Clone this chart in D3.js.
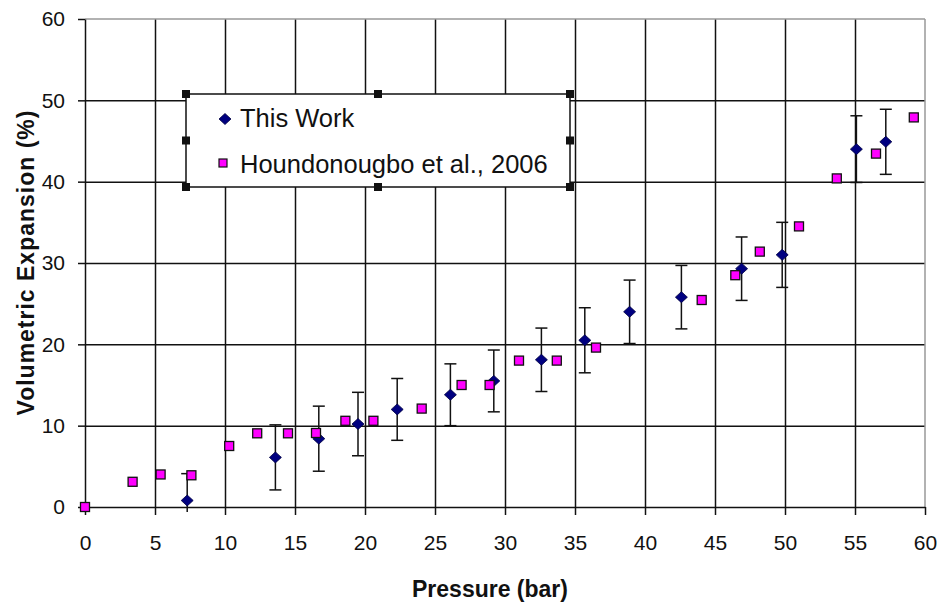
<!DOCTYPE html>
<html>
<head>
<meta charset="utf-8">
<script src="https://cdn.jsdelivr.net/npm/d3@7"></script>
<style>
  html, body { margin: 0; padding: 0; background: #fff; }
  svg { display: block; font-family: Arial, "Liberation Sans", sans-serif; }
</style>
</head>
<body>
<svg id="chart" width="940" height="605"></svg>
<script>
// ---- data ----
const workPressure = [7.3, 13.6, 16.7, 19.5, 22.3, 26.1, 29.2, 32.6, 35.7, 38.9, 42.6, 46.9, 49.8, 55.1, 57.2];
const workExpansion = [0.8, 6.1, 8.4, 10.2, 12.0, 13.8, 15.5, 18.1, 20.5, 24.0, 25.8, 29.3, 31.0, 44.0, 44.9];
const workError = [3.3, 4.0, 4.0, 3.9, 3.8, 3.8, 3.8, 3.9, 4.0, 3.9, 3.9, 3.9, 4.0, 4.1, 4.0];
const houPressure = [0, 3.4, 5.4, 7.6, 10.3, 12.3, 14.5, 16.5, 18.6, 20.6, 24.05, 26.9, 28.9, 31.0, 33.7, 36.5, 44.05, 46.45, 48.2, 51.0, 53.7, 56.5, 59.2];
const houExpansion = [0, 3.1, 4.0, 3.9, 7.5, 9.06, 9.06, 9.1, 10.6, 10.6, 12.1, 15.0, 15.0, 18.0, 18.0, 19.6, 25.45, 28.5, 31.4, 34.5, 40.4, 43.45, 47.9];
const xTicks = [0, 5, 10, 15, 20, 25, 30, 35, 40, 45, 50, 55, 60];
const yTicks = [0, 10, 20, 30, 40, 50, 60];
const seriesNames = ["This Work", "Houndonougbo et al., 2006"];
const xTitle = "Pressure (bar)";
const yTitle = "Volumetric Expansion (%)";

// ---- layout ----
const L = 85, R = 925, T = 19, B = 507;
const svg = d3.select("#chart");
const x = d3.scaleLinear().domain([0, 60]).range([L, R]);
const y = d3.scaleLinear().domain([0, 60]).range([B, T]);

// gridlines
const grid = svg.append("g");
grid.append("g").attr("transform", `translate(${L},0)`)
  .call(d3.axisLeft(y).tickValues(yTicks.filter(v => v > 0 && v < 60)).tickSize(-(R - L)).tickFormat(""))
  .call(g => g.select(".domain").remove())
  .call(g => g.selectAll("line").attr("stroke", "#111").attr("stroke-width", 1.5));
grid.append("g").attr("transform", `translate(0,${B})`)
  .call(d3.axisBottom(x).tickValues(xTicks.filter(v => v > 0 && v < 60)).tickSize(-(B - T)).tickFormat(""))
  .call(g => g.select(".domain").remove())
  .call(g => g.selectAll("line").attr("stroke", "#111").attr("stroke-width", 1.5));

// plot border (top/right gray)
svg.append("line").attr("x1", L).attr("x2", R).attr("y1", T).attr("y2", T).attr("stroke", "#999").attr("stroke-width", 1.5);
svg.append("line").attr("x1", R).attr("x2", R).attr("y1", T).attr("y2", B).attr("stroke", "#999").attr("stroke-width", 1.5);

// axes
const xAxis = svg.append("g").attr("transform", `translate(0,${B})`)
  .call(d3.axisBottom(x).tickValues(xTicks).tickSize(8).tickPadding(20).tickSizeOuter(0));
const yAxis = svg.append("g").attr("transform", `translate(${L},0)`)
  .call(d3.axisLeft(y).tickValues(yTicks).tickSize(7).tickPadding(13).tickSizeOuter(0));
[xAxis, yAxis].forEach(a => {
  a.select(".domain").attr("stroke", "#111").attr("stroke-width", 1.5);
  a.selectAll(".tick line").attr("stroke", "#111").attr("stroke-width", 1.5);
  a.selectAll(".tick text").attr("fill", "#111").style("font-size", "21px").style("font-family", "Arial, 'Liberation Sans', sans-serif");
});

// axis titles
svg.append("text").attr("x", 490).attr("y", 597).attr("text-anchor", "middle")
  .style("font-size", "23px").style("font-weight", "bold").attr("fill", "#111").text(xTitle);
svg.append("text").attr("transform", `translate(34,${(T + B) / 2}) rotate(-90)`).attr("text-anchor", "middle")
  .attr("textLength", 305).attr("lengthAdjust", "spacing")
  .style("font-size", "23px").style("font-weight", "bold").attr("fill", "#111").text(yTitle);

// clip for error bars
svg.append("clipPath").attr("id", "clip").append("rect")
  .attr("x", L - 10).attr("y", T).attr("width", R - L + 20).attr("height", B - T + 5);

const work = workPressure.map((p, i) => ({ p, v: workExpansion[i], e: workError[i] }));
const hou = houPressure.map((p, i) => ({ p, v: houExpansion[i] }));

// error bars
const eb = svg.append("g").attr("clip-path", "url(#clip)");
work.forEach(d => {
  const g = eb.append("g").attr("stroke", "#111").attr("stroke-width", 1.5);
  g.append("line").attr("x1", x(d.p)).attr("x2", x(d.p)).attr("y1", y(d.v + d.e)).attr("y2", y(d.v - d.e));
  g.append("line").attr("x1", x(d.p) - 6).attr("x2", x(d.p) + 6).attr("y1", y(d.v + d.e)).attr("y2", y(d.v + d.e));
  g.append("line").attr("x1", x(d.p) - 6).attr("x2", x(d.p) + 6).attr("y1", y(d.v - d.e)).attr("y2", y(d.v - d.e));
});

const diamond = "M0,-5.5L6,0L0,5.5L-6,0Z";
svg.append("g").selectAll("path").data(work).join("path")
  .attr("d", diamond).attr("transform", d => `translate(${x(d.p)},${y(d.v)})`)
  .attr("fill", "#000080").attr("stroke", "#000040").attr("stroke-width", 0.8);

svg.append("g").selectAll("rect").data(hou).join("rect")
  .attr("x", d => x(d.p) - 4.5).attr("y", d => y(d.v) - 4.5).attr("width", 9).attr("height", 9)
  .attr("fill", "#FF00FF").attr("stroke", "#111").attr("stroke-width", 1.3);

// legend
const lg = svg.append("g");
lg.append("rect").attr("x", 186).attr("y", 94).attr("width", 384).attr("height", 93)
  .attr("fill", "#fff").attr("stroke", "#111").attr("stroke-width", 1.5);
const hx = [186, 378, 570], hy = [94, 140.5, 187];
hx.forEach((hxv, i) => hy.forEach((hyv, j) => {
  if (i === 1 && j === 1) return;
  lg.append("rect").attr("x", hxv - 4).attr("y", hyv - 4).attr("width", 8).attr("height", 8).attr("fill", "#111");
}));
lg.append("path").attr("d", diamond).attr("transform", "translate(225,119)").attr("fill", "#000080").attr("stroke", "#000040").attr("stroke-width", 0.8);
lg.append("rect").attr("x", 219).attr("y", 159).attr("width", 8).attr("height", 8).attr("fill", "#FF00FF").attr("stroke", "#111").attr("stroke-width", 1.2);
lg.append("text").attr("x", 240).attr("y", 127).style("font-size", "25.5px").attr("fill", "#111").text(seriesNames[0]);
lg.append("text").attr("x", 240).attr("y", 173).style("font-size", "25.5px").attr("fill", "#111").text(seriesNames[1]);
</script>
</body>
</html>
